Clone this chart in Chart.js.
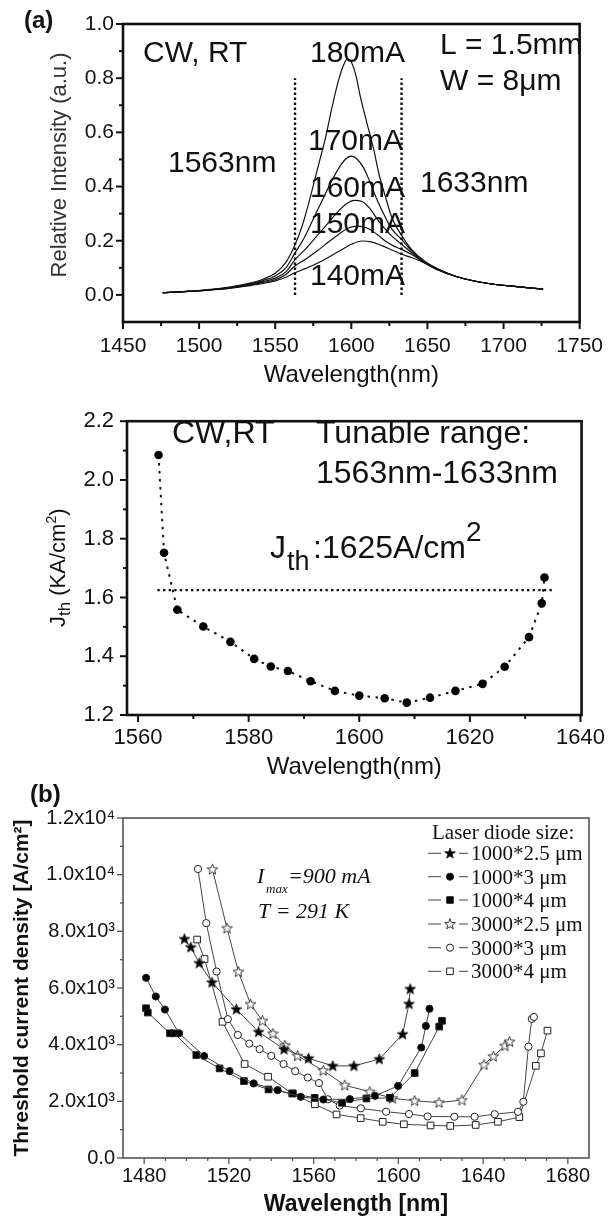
<!DOCTYPE html>
<html lang="en">
<head>
<meta charset="UTF-8">
<title>Tunable laser: spectra and threshold current density</title>
<script src="https://cdn.jsdelivr.net/npm/chart.js@4.4.1/dist/chart.umd.min.js"></script>
<style>
    body { margin: 0; background: #fff; }
    .page { position: relative; width: 615px; height: 1218px; }
    canvas { position: absolute; left: 0; }
</style>
</head>
<body>
<div class="page">
    <canvas id="spectra" width="615" height="395" style="top:0"></canvas>
    <canvas id="jth" width="615" height="387" style="top:395px"></canvas>
    <canvas id="sizes" width="615" height="436" style="top:782px"></canvas>
</div>
<script>
// ---- (a) top: emission spectra at several currents
const wl180 = [1476,1490,1505,1520,1532,1542,1550,1557,1563,1568,1573,1578,1583,1588,1592,1595,1597.5,1600,1603,1606,1610,1615,1618,1622,1627,1633,1640,1648,1656,1670,1690,1710,1726];
const int180 = [0.008,0.012,0.019,0.029,0.042,0.058,0.08,0.12,0.185,0.26,0.36,0.47,0.58,0.71,0.80,0.85,0.87,0.86,0.81,0.73,0.64,0.53,0.45,0.37,0.28,0.22,0.165,0.125,0.098,0.066,0.042,0.030,0.021];
const wl170 = [1476,1490,1505,1520,1532,1542,1550,1557,1563,1569,1575,1581,1587,1592,1596,1600,1604,1608,1612,1617,1622,1627,1633,1640,1648,1656,1670,1690,1710,1726];
const int170 = [0.008,0.012,0.018,0.027,0.039,0.053,0.07,0.10,0.155,0.21,0.28,0.35,0.42,0.47,0.50,0.512,0.50,0.47,0.42,0.35,0.29,0.24,0.205,0.16,0.122,0.097,0.066,0.042,0.030,0.021];
const wl160 = [1476,1490,1505,1520,1532,1542,1550,1557,1563,1570,1577,1584,1590,1596,1602,1607,1612,1617,1622,1627,1633,1640,1648,1656,1670,1690,1710,1726];
const int160 = [0.008,0.012,0.018,0.026,0.037,0.049,0.062,0.085,0.13,0.17,0.215,0.26,0.30,0.333,0.349,0.345,0.32,0.28,0.245,0.215,0.187,0.155,0.12,0.096,0.066,0.042,0.030,0.021];
const wl150 = [1476,1490,1505,1520,1532,1542,1550,1557,1563,1570,1577,1585,1592,1598,1604,1610,1617,1623,1628,1633,1640,1648,1656,1670,1690,1710,1726];
const int150 = [0.008,0.012,0.018,0.025,0.035,0.046,0.056,0.075,0.107,0.132,0.16,0.195,0.225,0.247,0.254,0.248,0.223,0.196,0.18,0.168,0.148,0.12,0.095,0.066,0.042,0.030,0.021];
const wl140 = [1476,1490,1505,1520,1532,1542,1550,1557,1563,1570,1578,1586,1594,1600,1607,1613,1620,1627,1633,1640,1648,1656,1670,1690,1710,1726];
const int140 = [0.008,0.012,0.017,0.024,0.033,0.042,0.052,0.065,0.082,0.098,0.118,0.142,0.168,0.187,0.199,0.196,0.182,0.165,0.15,0.137,0.118,0.094,0.066,0.042,0.030,0.021];
const rangeWl = [1563, 1633];
const rangeY = [0, 0.8];
const xTicks1 = [1450,1500,1550,1600,1650,1700,1750];
const xTickLabels1 = ['1450','1500','1550','1600','1650','1700','1750'];
const yTicks1 = [0,0.2,0.4,0.6,0.8,1.0];
const yTickLabels1 = ['0.0','0.2','0.4','0.6','0.8','1.0'];

// ---- (a) bottom: threshold current density vs wavelength
const jthWl = [1563.7,1564.7,1567.1,1571.8,1576.7,1581.0,1584.0,1587.1,1591.2,1595.6,1600.0,1604.6,1608.6,1612.8,1617.4,1622.3,1626.3,1630.7,1633.0,1633.5];
const jthVal = [2.085,1.752,1.558,1.501,1.449,1.391,1.365,1.350,1.315,1.282,1.266,1.257,1.242,1.259,1.282,1.306,1.364,1.465,1.580,1.668];
const levelWl = [1563.5, 1635];
const levelJth = 1.625;
const xTicks2 = [1560,1580,1600,1620,1640];
const xTickLabels2 = ['1560','1580','1600','1620','1640'];
const yTicks2 = [1.2,1.4,1.6,1.8,2.0,2.2];
const yTickLabels2 = ['1.2','1.4','1.6','1.8','2.0','2.2'];

// ---- (b): threshold current density for six diode sizes
const sizeLabels = ['1000*2.5 \u03bcm','1000*3 \u03bcm','1000*4 \u03bcm','3000*2.5 \u03bcm','3000*3 \u03bcm','3000*4 \u03bcm'];
const wl1000x25 = [1499,1502,1506,1512,1523.5,1534,1546,1557.6,1569,1579,1591,1602,1605,1605.6];
const jt1000x25 = [7730,7440,6880,6200,5250,4450,3840,3520,3250,3250,3490,4370,5440,5965];
const wl1000x3 = [1480.9,1485.5,1489.8,1496.5,1508.3,1520.3,1531.7,1543.0,1553.9,1564.6,1577.1,1589.0,1599.9,1610.8,1613,1614.7];
const jt1000x3 = [6360,5700,5240,4400,3600,3068,2631,2395,2159,2065,2077,2195,2545,3900,4660,5267];
const wl1000x4 = [1480.9,1481.7,1492.2,1494.2,1504.6,1515.6,1527.1,1538.7,1550.2,1560.5,1573.4,1584.9,1596,1607.7,1619.3,1620.6];
const jt1000x4 = [5286,5133,4401,4401,3634,3162,2714,2419,2277,2124,1947,2100,2124,2998,4637,4843];
const wl3000x25 = [1512.2,1519.1,1524.5,1530.2,1535.8,1540.8,1546.4,1552.4,1564.5,1574.7,1586.5,1597.2,1607.7,1619.2,1630,1640.4,1644.8,1650.3,1652.5];
const jt3000x25 = [10190,8110,6570,5430,4843,4390,3977,3606,3087,2569,2338,2107,2020,1956,2044,3293,3588,3959,4106];
const wl3000x3 = [1505.4,1509.3,1514.2,1519.5,1524.2,1529.6,1534.5,1540,1545.8,1551.3,1557.2,1562.5,1566.7,1572.3,1582.3,1594.2,1605,1613.8,1626.4,1636,1645.5,1656.5,1659,1661.4,1663,1664];
const jt3000x3 = [10200,8290,6580,4900,4342,4036,3842,3606,3317,3063,2840,2645,2071,1850,1754,1634,1553,1467,1456,1456,1544,1632,1985,3930,4908,4980];
const wl3000x4 = [1505,1508.5,1517,1527.4,1538.5,1549.8,1560.6,1570.8,1582.2,1592.6,1602.6,1615.2,1624.5,1636.5,1647,1657.1,1664.9,1667.3,1670.4];
const jt3000x4 = [7710,7023,4807,3317,2868,2280,1897,1537,1407,1278,1190,1149,1131,1166,1278,1443,3252,3694,4495];
const xTicks3 = [1480,1520,1560,1600,1640,1680];
const xTickLabels3 = ['1480','1520','1560','1600','1640','1680'];
const yTicks3 = [0,2000,4000,6000,8000,10000,12000];
const yTickLabels3 = ['0.0','2.0x10\u00b3','4.0x10\u00b3','6.0x10\u00b3','8.0x10\u00b3','1.0x10\u2074','1.2x10\u2074'];

const SANS = '"Liberation Sans", Arial, sans-serif';
const SERIF = '"Liberation Serif", "Times New Roman", serif';
Chart.defaults.font.family = SANS;
Chart.defaults.color = '#111';

const pts = (xs, ys) => xs.map((x, i) => ({ x: x, y: ys[i] }));

function minorTicks(min, max, step, majors) {
    const out = [];
    for (let v = min; v <= max + 1e-9; v += step) {
        const r = Math.round(v * 1000) / 1000;
        if (!majors.some(m => Math.abs(m - r) < 1e-6)) out.push(r);
    }
    return out;
}

// frame round the plot area plus outward major / minor tick marks
function framePlugin(cfg) {
    return {
        id: 'frame',
        afterDatasetsDraw(chart) {
            const { ctx, chartArea: a, scales } = chart;
            const x = scales.x, y = scales.y;
            ctx.save();
            ctx.strokeStyle = cfg.color;
            ctx.lineWidth = cfg.tickWidth;
            const inX = v => v > x.min + 1e-6 && v < x.max - 1e-6;
            const inY = v => v > y.min + 1e-6 && v < y.max - 1e-6;
            const xt = (vals, len) => vals.filter(v => v >= x.min && v <= x.max).forEach(v => {
                const p = x.getPixelForValue(v);
                ctx.beginPath(); ctx.moveTo(p, a.bottom); ctx.lineTo(p, a.bottom + len); ctx.stroke();
            });
            const yt = (vals, len) => vals.filter(v => v >= y.min && v <= y.max).forEach(v => {
                const p = y.getPixelForValue(v);
                ctx.beginPath(); ctx.moveTo(a.left, p); ctx.lineTo(a.left - len, p); ctx.stroke();
            });
            xt(cfg.xMajor, cfg.major); xt(cfg.xMinor.filter(inX), cfg.minor);
            yt(cfg.yMajor, cfg.major); yt(cfg.yMinor.filter(inY), cfg.minor);
            ctx.lineWidth = cfg.width;
            ctx.strokeRect(a.left, a.top, a.right - a.left, a.bottom - a.top);
            ctx.restore();
        }
    };
}

function axis(min, max, ticks, labels, size, pad, fit, isX, title) {
    return {
        type: 'linear', min: min, max: max,
        afterBuildTicks: s => { s.ticks = ticks.map(v => ({ value: v })); },
        afterFit: s => { if (isX) s.height = fit; else s.width = fit; },
        grid: { display: false, drawTicks: false },
        border: { display: false },
        ticks: {
            autoSkip: false, maxRotation: 0, padding: pad,
            font: { size: size }, color: '#111',
            callback: (v, i) => labels[i]
        },
        title: title || { display: false }
    };
}

function starPath(g, cx, cy, r) {
    g.beginPath();
    for (let k = 0; k < 10; k++) {
        const rr = k % 2 ? r * 0.42 : r;
        const ang = -Math.PI / 2 + k * Math.PI / 5;
        g.lineTo(cx + rr * Math.cos(ang), cy + rr * Math.sin(ang));
    }
    g.closePath();
}
function starImage(fill) {
    const c = document.createElement('canvas');
    c.width = 13; c.height = 13;
    const g = c.getContext('2d');
    starPath(g, 6.5, 6.8, 5.6);
    g.fillStyle = fill; g.fill();
    g.strokeStyle = '#222'; g.lineWidth = 0.9; g.stroke();
    return c;
}
const filledStar = starImage('#000');
const openStar = starImage('#fff');

// ================= (a) spectra =================
const lineSet = (xs, ys) => ({
    data: pts(xs, ys), borderColor: '#111', borderWidth: 1.2, pointRadius: 0,
    cubicInterpolationMode: 'monotone', fill: false
});
const dotSet = wl => ({
    data: [{ x: wl, y: rangeY[0] }, { x: wl, y: rangeY[1] }],
    borderColor: '#111', borderWidth: 2.4, borderDash: [2.4, 2.6], pointRadius: 0, tension: 0
});

new Chart(document.getElementById('spectra'), {
    type: 'line',
    data: { datasets: [
        lineSet(wl180, int180), lineSet(wl170, int170), lineSet(wl160, int160),
        lineSet(wl150, int150), lineSet(wl140, int140),
        dotSet(rangeWl[0]), dotSet(rangeWl[1])
    ] },
    options: {
        responsive: false, animation: false, events: [],
        layout: { padding: { left: 0, top: 24, right: 29, bottom: 0 } },
        plugins: { legend: { display: false }, tooltip: { enabled: false } },
        scales: {
            x: axis(1450, 1750, xTicks1, xTickLabels1, 21, 12, 73, true,
                { display: true, text: 'Wavelength(nm)', font: { size: 24 }, color: '#111', padding: { top: 0, bottom: 5 } }),
            y: axis(-0.1, 1.0, yTicks1, yTickLabels1, 21, 9, 123, false)
        }
    },
    plugins: [
        framePlugin({ color: '#111', width: 2.6, tickWidth: 2, major: 7, minor: 4,
            xMajor: xTicks1, xMinor: minorTicks(1450, 1750, 25, xTicks1),
            yMajor: yTicks1, yMinor: minorTicks(-0.1, 1.0, 0.1, yTicks1) }),
        { id: 'notesA', afterDraw(chart) {
            const ctx = chart.ctx;
            ctx.save();
            ctx.fillStyle = '#111';
            ctx.font = 'bold 24px ' + SANS;
            ctx.fillText('(a)', 24, 28);
            ctx.font = '30px ' + SANS;
            [['CW, RT', 143, 62], ['180mA', 310, 62], ['L = 1.5mm', 440, 54], ['W = 8\u03bcm', 440, 90],
             ['170mA', 308, 150], ['1563nm', 168, 172], ['160mA', 310, 197], ['1633nm', 420, 192],
             ['150mA', 310, 233], ['140mA', 310, 285]].forEach(t => ctx.fillText(t[0], t[1], t[2]));
            ctx.translate(60, 165); ctx.rotate(-Math.PI / 2);
            ctx.textAlign = 'center'; ctx.textBaseline = 'middle';
            ctx.font = '22px ' + SANS; ctx.fillStyle = '#333';
            ctx.fillText('Relative Intensity (a.u.)', 0, 0);
            ctx.restore();
        } }
    ]
});

// ================= (a) threshold =================
new Chart(document.getElementById('jth'), {
    type: 'line',
    data: { datasets: [
        { data: pts(jthWl, jthVal), borderColor: '#111', borderWidth: 2, borderDash: [2.5, 5.5],
          pointRadius: 4.3, pointBackgroundColor: '#000', pointBorderWidth: 0, tension: 0 },
        { data: [{ x: levelWl[0], y: levelJth }, { x: levelWl[1], y: levelJth }],
          borderColor: '#111', borderWidth: 2.4, borderDash: [2.4, 3.2], pointRadius: 0 }
    ] },
    options: {
        responsive: false, animation: false, events: [],
        layout: { padding: { left: 0, top: 15, right: 31, bottom: 0 } },
        plugins: { legend: { display: false }, tooltip: { enabled: false } },
        scales: {
            x: axis(1558, 1640.2, xTicks2, xTickLabels2, 22, 10, 67, true,
                { display: true, text: 'Wavelength(nm)', font: { size: 24 }, color: '#111', padding: { top: 0, bottom: 0 } }),
            y: axis(1.2, 2.2, yTicks2, yTickLabels2, 22, 13, 127, false)
        }
    },
    plugins: [
        framePlugin({ color: '#111', width: 2.6, tickWidth: 2, major: 7, minor: 4,
            xMajor: xTicks2, xMinor: minorTicks(1560, 1640, 10, xTicks2),
            yMajor: yTicks2, yMinor: minorTicks(1.2, 2.2, 0.1, yTicks2) }),
        { id: 'notesB', afterDraw(chart) {
            const ctx = chart.ctx;
            ctx.save();
            ctx.fillStyle = '#111';
            ctx.font = '32px ' + SANS;
            ctx.fillText('CW,RT', 172, 48);
            ctx.fillText('Tunable range:', 316, 48);
            ctx.fillText('1563nm-1633nm', 316, 88);
            ctx.fillText('J', 270, 163);
            ctx.fillText(':1625A/cm', 313, 163);
            ctx.font = '27px ' + SANS;
            ctx.fillText('th', 287, 175);
            ctx.font = '28px ' + SANS;
            ctx.fillText('2', 466, 146);
            // rotated y title with sub/superscripts
            ctx.translate(65, 232); ctx.rotate(-Math.PI / 2);
            let u = 0;
            const piece = (s, size, v) => { ctx.font = size + 'px ' + SANS; ctx.fillText(s, u, v); u += ctx.measureText(s).width; };
            piece('J', 22, 0); piece('th', 17, 5); piece(' (KA/cm', 22, 0); piece('2', 14, -9); piece(')', 22, 0);
            ctx.restore();
        } }
    ]
});

// ================= (b) diode sizes =================
const seriesStyle = [
    { style: filledStar, fill: '#000' },
    { style: 'circle', fill: '#000' },
    { style: 'rect', fill: '#000' },
    { style: openStar, fill: '#fff' },
    { style: 'circle', fill: '#fff' },
    { style: 'rect', fill: '#fff' }
];
const seriesData = [pts(wl1000x25, jt1000x25), pts(wl1000x3, jt1000x3), pts(wl1000x4, jt1000x4),
                    pts(wl3000x25, jt3000x25), pts(wl3000x3, jt3000x3), pts(wl3000x4, jt3000x4)];

function drawMarker(ctx, i, x, y) {
    const s = seriesStyle[i];
    ctx.fillStyle = s.fill; ctx.strokeStyle = '#222'; ctx.lineWidth = 1;
    if (s.style === 'circle') {
        ctx.beginPath(); ctx.arc(x, y, 3.6, 0, Math.PI * 2); ctx.fill(); ctx.stroke();
    } else if (s.style === 'rect') {
        ctx.beginPath(); ctx.rect(x - 3.3, y - 3.3, 6.6, 6.6); ctx.fill(); ctx.stroke();
    } else {
        starPath(ctx, x, y + 0.3, 5.6); ctx.fill(); ctx.lineWidth = 0.9; ctx.stroke();
    }
}

new Chart(document.getElementById('sizes'), {
    type: 'line',
    data: { datasets: seriesData.map((d, i) => ({
        label: sizeLabels[i], data: d, borderColor: '#444', borderWidth: 1, tension: 0,
        pointStyle: seriesStyle[i].style, pointRadius: seriesStyle[i].style === 'rect' ? 4.7 : 3.6,
        pointBackgroundColor: seriesStyle[i].fill, pointBorderColor: '#222', pointBorderWidth: 1
    })) },
    options: {
        responsive: false, animation: false, events: [],
        layout: { padding: { left: 0, top: 36, right: 26, bottom: 0 } },
        plugins: { legend: { display: false }, tooltip: { enabled: false } },
        scales: {
            x: axis(1470, 1690, xTicks3, xTickLabels3, 20, 6, 60, true,
                { display: true, text: 'Wavelength [nm]', font: { size: 23, weight: 'bold' }, color: '#111', padding: { top: 0, bottom: 0 } }),
            y: axis(0, 12000, yTicks3, yTickLabels3, 20, 8, 123, false)
        }
    },
    plugins: [
        framePlugin({ color: '#555', width: 1.6, tickWidth: 1.3, major: 6, minor: 3,
            xMajor: xTicks3, xMinor: minorTicks(1470, 1690, 10, xTicks3),
            yMajor: yTicks3, yMinor: minorTicks(0, 12000, 1000, yTicks3) }),
        { id: 'notesC', afterDraw(chart) {
            const ctx = chart.ctx;
            ctx.save();
            ctx.fillStyle = '#111';
            ctx.font = 'bold 24px ' + SANS;
            ctx.fillText('(b)', 30, 20);
            ctx.font = 'italic 22px ' + SERIF;
            ctx.fillText('I', 257, 101);
            ctx.fillText('=900 mA', 288, 101);
            ctx.fillText('T = 291 K', 258, 136);
            ctx.font = 'italic 13px ' + SERIF;
            ctx.fillText('max', 266, 111);
            // legend
            ctx.font = '21px ' + SERIF;
            ctx.fillText('Laser diode size:', 432, 57);
            const rows = [71.3, 94.7, 118, 142, 165.7, 189.3];
            rows.forEach((yc, i) => {
                ctx.strokeStyle = '#444'; ctx.lineWidth = 1;
                ctx.beginPath(); ctx.moveTo(428, yc); ctx.lineTo(441, yc); ctx.moveTo(459, yc); ctx.lineTo(468, yc); ctx.stroke();
                drawMarker(ctx, i, 450, yc);
                ctx.fillStyle = '#111';
                ctx.font = '21px ' + SERIF;
                ctx.fillText(sizeLabels[i], 471, yc + 7);
            });
            // y title
            ctx.translate(22, 206); ctx.rotate(-Math.PI / 2);
            ctx.textAlign = 'center'; ctx.textBaseline = 'middle';
            ctx.font = 'bold 21px ' + SANS;
            ctx.fillText('Threshold current density [A/cm\u00b2]', 0, 0);
            ctx.restore();
        } }
    ]
});
</script>
</body>
</html>
